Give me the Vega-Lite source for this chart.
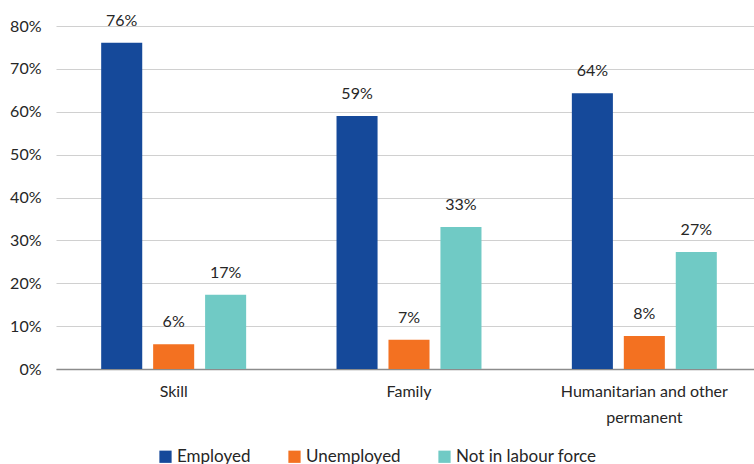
{
  "$schema": "https://vega.github.io/schema/vega-lite/v6.json",
  "autosize": "none",
  "width": 706,
  "height": 343,
  "padding": {"left": 56, "top": 26, "right": 0, "bottom": 95},
  "background": "white",
  "data": {
    "values": [
      {"visa": "Skill", "status": "Employed", "value": 0.761},
      {"visa": "Skill", "status": "Unemployed", "value": 0.058},
      {"visa": "Skill", "status": "Not in labour force", "value": 0.173},
      {"visa": "Family", "status": "Employed", "value": 0.59},
      {"visa": "Family", "status": "Unemployed", "value": 0.068},
      {"visa": "Family", "status": "Not in labour force", "value": 0.331},
      {"visa": "Humanitarian and other permanent", "status": "Employed", "value": 0.643},
      {"visa": "Humanitarian and other permanent", "status": "Unemployed", "value": 0.077},
      {"visa": "Humanitarian and other permanent", "status": "Not in labour force", "value": 0.273}
    ]
  },
  "config": {
    "font": "Lato",
    "view": {"stroke": null},
    "axis": {"labelFont": "Lato", "labelColor": "#262626", "labelFontSize": 16}
  },
  "encoding": {
    "x": {
      "field": "visa", "type": "nominal", "sort": null, "title": null,
      "scale": {"paddingInner": 0.384, "paddingOuter": 0.192},
      "axis": {
        "labelAngle": 0, "ticks": false, "domainColor": "#8c8c8c", "domainWidth": 1.5,
        "labelPadding": 14, "labelLineHeight": 26,
        "labelExpr": "datum.value == 'Humanitarian and other permanent' ? ['Humanitarian and other', 'permanent'] : datum.value"
      }
    },
    "xOffset": {
      "field": "status", "type": "nominal",
      "sort": ["Employed", "Unemployed", "Not in labour force"],
      "scale": {"paddingInner": 0.21, "paddingOuter": 0}
    },
    "y": {
      "field": "value", "type": "quantitative", "title": null,
      "scale": {"domain": [0, 0.8]},
      "axis": {
        "format": ".0%", "values": [0, 0.1, 0.2, 0.3, 0.4, 0.5, 0.6, 0.7, 0.8],
        "labelOverlap": false,
        "domain": false, "ticks": false, "labelPadding": 15,
        "gridColor": "#d0d0d0", "gridWidth": 1.2
      }
    }
  },
  "layer": [
    {
      "mark": {"type": "bar"},
      "encoding": {
        "color": {
          "field": "status", "type": "nominal",
          "sort": ["Employed", "Unemployed", "Not in labour force"],
          "scale": {"domain": ["Employed", "Unemployed", "Not in labour force"], "range": ["#15499A", "#F37121", "#70CAC5"]},
          "legend": {
            "title": null, "orient": "none", "direction": "horizontal",
            "legendX": 101, "legendY": 422,
            "symbolType": "square", "symbolSize": 150, "symbolStrokeWidth": 0,
            "labelFontSize": 17, "labelColor": "#262626", "labelFont": "Lato",
            "columnPadding": 35, "symbolOffset": 0, "labelOffset": 3
          }
        }
      }
    },
    {
      "mark": {"type": "text", "baseline": "bottom", "dy": -14, "fontSize": 16, "color": "#262626"},
      "encoding": {
        "text": {"field": "value", "type": "quantitative", "format": ".0%"}
      }
    }
  ]
}
